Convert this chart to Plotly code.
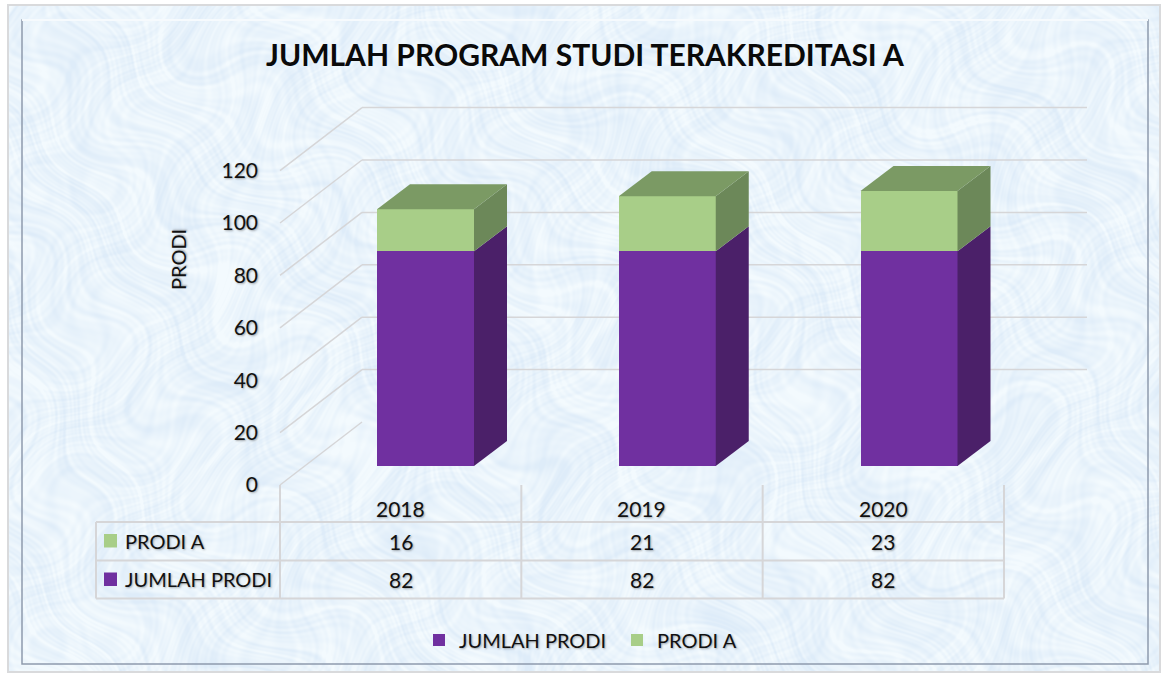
import base64
import struct
import zlib

import numpy as np
import plotly.graph_objects as go

# ---- data ----
categories = ["2018", "2019", "2020"]
jumlah_prodi = [82, 82, 82]
prodi_a = [16, 21, 23]
y_ticks = [0, 20, 40, 60, 80, 100, 120]
title_text = "JUMLAH PROGRAM STUDI TERAKREDITASI A"
axis_title = "PRODI"
name_total = "JUMLAH PRODI"
name_a = "PRODI A"

# ---- style ----
W, H = 1161, 675
FONT = "Lato"
INK = "#111111"
SHADOW = "1px 1px 2px rgba(70,70,70,0.45)"
PURPLE, PURPLE_SIDE = "#7030A0", "#4B2069"
GREEN, GREEN_SIDE, GREEN_TOP = "#A8CE88", "#6C8859", "#7B9A64"
GRID = "#D6D6D8"

# scale of the bar plane: pixel geometry of the pseudo 3D view
PX_CAT = 241.75
PX_UNIT = 2.62
X0_PX, Y0_PX = 425.5, 466
BAR_W = 97 / PX_CAT
DX, DY = 33 / PX_CAT, 25 / PX_UNIT          # bar depth
FX, FY = -145.5 / PX_CAT, -19 / PX_UNIT     # front-left corner of the floor relative to first bar centre
WX, WY = 82 / PX_CAT, 63 / PX_UNIT          # wall depth
GRID_END = (1087 - X0_PX) / PX_CAT
xs = list(range(len(categories)))


def paper_texture(w, h):
    """Soft mottled pale-blue backdrop made of warped interfering waves (decoration only)."""
    yy, xx = np.mgrid[0:h, 0:w].astype(float)
    u = xx + 38 * np.sin(0.013 * yy + 0.7) + 21 * np.sin(0.041 * yy + 0.031 * xx)
    t_ = yy + 33 * np.sin(0.017 * xx + 2.1) + 19 * np.sin(0.037 * xx - 0.029 * yy)
    v = np.zeros((h, w))
    waves = [(0.023, 0.037, 0.3, 0.4), (-0.041, 0.029, 1.7, 0.4), (0.061, -0.047, 2.9, 0.5),
             (0.097, 0.073, 4.1, 0.5), (-0.127, 0.109, 0.9, 0.6), (0.173, 0.149, 5.3, 0.6),
             (-0.233, 0.191, 3.3, 0.6), (0.311, -0.277, 2.2, 0.6), (0.419, 0.367, 1.1, 0.6),
             (-0.521, 0.443, 4.7, 0.5), (0.61, -0.57, 0.2, 0.5), (0.73, 0.69, 3.9, 0.4)]
    for kx, ky, ph, amp in waves:
        v += amp * np.sin(kx * u + ky * t_ + ph)
    v /= np.abs(v).max()
    low = np.array([222.0, 236.0, 249.0])
    high = np.array([243.0, 250.0, 254.0])
    s = np.clip(0.6 + 0.9 * v, 0, 1)[..., None]
    img = (low + (high - low) * s).astype(np.uint8)
    raw = b"".join(b"\x00" + img[i].tobytes() for i in range(h))

    def chunk(tag, body):
        return struct.pack(">I", len(body)) + tag + body + struct.pack(">I", zlib.crc32(tag + body) & 0xffffffff)

    png = b"\x89PNG\r\n\x1a\n" + chunk(b"IHDR", struct.pack(">IIBBBBB", w, h, 8, 2, 0, 0, 0)) \
        + chunk(b"IDAT", zlib.compress(raw, 9)) + chunk(b"IEND", b"")
    return "data:image/png;base64," + base64.b64encode(png).decode()


fig = go.Figure()
fig.add_bar(x=xs, y=jumlah_prodi, name=name_total, width=BAR_W, marker_color=PURPLE, marker_line_width=0)
fig.add_bar(x=xs, y=prodi_a, name=name_a, width=BAR_W, marker_color=GREEN, marker_line_width=0)


def face(px, py, color):
    fig.add_scatter(x=px, y=py, mode="lines", fill="toself", fillcolor=color, line=dict(width=0, color=color),
                    showlegend=False, hoverinfo="skip")


for x, a, b in zip(xs, jumlah_prodi, prodi_a):
    r = x + BAR_W / 2
    l = x - BAR_W / 2
    t = a + b
    face([r, r + DX, r + DX, r, r], [0, DY, a + DY, a, 0], PURPLE_SIDE)
    face([r, r + DX, r + DX, r, r], [a, a + DY, t + DY, t, a], GREEN_SIDE)
    face([l, l + DX, r + DX, r, l], [t, t + DY, t + DY, t, t], GREEN_TOP)

# invisible trace that carries the value axis of the front wall
fig.add_scatter(x=[None], y=[None], yaxis="y2", showlegend=False, hoverinfo="skip")

shapes = []
shapes.append(dict(type="rect", xref="paper", yref="paper", x0=8 / W, x1=1160 / W, y0=1 - 672 / H, y1=1 - 5 / H,
                   fillcolor="rgba(0,0,0,0)", line=dict(color="#D9DADC", width=2), layer="below"))
shapes.append(dict(type="rect", xref="paper", yref="paper", x0=22 / W, x1=1148 / W, y0=1 - 664 / H, y1=1 - 20 / H,
                   fillcolor="rgba(0,0,0,0)", line=dict(color="#8E9BAD", width=1.5), layer="below"))
shapes.append(dict(type="line", xref="paper", yref="paper", x0=22 / W, x1=1148 / W, y0=1 - 20 / H, y1=1 - 20 / H,
                   line=dict(color="#F6FAFD", width=2), layer="below"))

# walls: front-left edge -> back-left -> back-right, in value units
for v in y_ticks:
    for (x0, y0, x1, y1) in [(FX, v + FY, FX + WX, v + FY + WY), (FX + WX, v + FY + WY, GRID_END, v + FY + WY)]:
        if v == 0 and x0 != FX:
            continue
        shapes.append(dict(type="line", xref="x", yref="y", x0=x0, x1=x1, y0=y0, y1=y1,
                           line=dict(color=GRID, width=1.5), layer="below"))


# data table
def px_x(p):
    return p / W


def px_y(p):
    return 1 - p / H


TL, TR, T0, T1, T2, TT = 96, 1004, 522, 560.5, 598.5, 485
for yy in (T0, T1, T2):
    shapes.append(dict(type="line", xref="paper", yref="paper", x0=px_x(TL), x1=px_x(TR), y0=px_y(yy), y1=px_y(yy),
                       line=dict(color=GRID, width=2), layer="below"))
shapes.append(dict(type="line", xref="paper", yref="paper", x0=px_x(TL), x1=px_x(TL), y0=px_y(T0), y1=px_y(T2),
                   line=dict(color=GRID, width=2), layer="below"))
for i in range(len(categories) + 1):
    xv = px_x(280 + i * 241.33)
    shapes.append(dict(type="line", xref="paper", yref="paper", x0=xv, x1=xv, y0=px_y(TT), y1=px_y(T2),
                       line=dict(color=GRID, width=2), layer="below"))
# table colour keys
for yc, col in [(541, GREEN), (579.5, PURPLE)]:
    shapes.append(dict(type="rect", xref="paper", yref="paper", x0=px_x(104), x1=px_x(117), y0=px_y(yc - 7),
                       y1=px_y(yc + 6.5), fillcolor=col, line=dict(width=0)))

anns = []
tf = dict(family=FONT, size=21, color=INK, shadow=SHADOW)
lf = dict(family=FONT, size=20, color=INK, shadow=SHADOW)


def note(text, xpx, ypx, anchor="center", font=tf, **kw):
    anns.append(dict(text=text, xref="paper", yref="paper", x=px_x(xpx), y=px_y(ypx), xanchor=anchor, yanchor="middle",
                     showarrow=False, font=font, **kw))


for i, c in enumerate(categories):
    cx = 400.5 + i * 241.33
    note(c, cx, 508)
    note(str(prodi_a[i]), cx, 541)
    note(str(jumlah_prodi[i]), cx, 579)
note(name_a, 123, 541, "left", font=lf)
note(name_total, 123, 579, "left", font=lf)
note(title_text, 585, 54, font=dict(family=FONT, size=30, color="#0A0A0A", weight="bold"))
note(axis_title, 178, 260, font=lf, textangle=-90)

fig.update_layout(
    width=W, height=H,
    autosize=False,
    margin=dict(l=0, r=0, t=0, b=0, pad=0, autoexpand=False),
    barmode="stack",
    paper_bgcolor="white",
    plot_bgcolor="rgba(0,0,0,0)",
    font=dict(family=FONT, size=20, color=INK),
    shapes=shapes,
    annotations=anns,
    images=[dict(source=paper_texture(1152, 667), xref="paper", yref="paper", x=8 / W, y=1 - 5 / H,
                 sizex=1152 / W, sizey=667 / H, sizing="stretch", xanchor="left", yanchor="top", layer="below")],
    showlegend=True,
    legend=dict(orientation="h", x=419 / W, xanchor="left", y=px_y(640),
                yanchor="middle", traceorder="normal", bgcolor="rgba(0,0,0,0)", entrywidth=153,
                entrywidthmode="pixels", font=dict(family=FONT, size=20, color=INK, shadow=SHADOW)),
    xaxis=dict(visible=False, range=[(0 - X0_PX) / PX_CAT, (W - X0_PX) / PX_CAT], domain=[0, 1], fixedrange=True),
    yaxis=dict(visible=False, range=[(Y0_PX - H) / PX_UNIT, Y0_PX / PX_UNIT], domain=[0, 1], fixedrange=True),
    yaxis2=dict(range=[0, 120], domain=[px_y(485), px_y(485 - 120 * PX_UNIT)], anchor="free", position=258 / W,
                side="left", tickvals=y_ticks, showgrid=False, zeroline=False, showline=False, ticks="",
                tickfont=dict(family=FONT, size=21, color=INK, shadow=SHADOW), fixedrange=True),
)

fig.write_html("out.html", config=dict(displayModeBar=False),
               post_script="document.body.style.margin='0';")
